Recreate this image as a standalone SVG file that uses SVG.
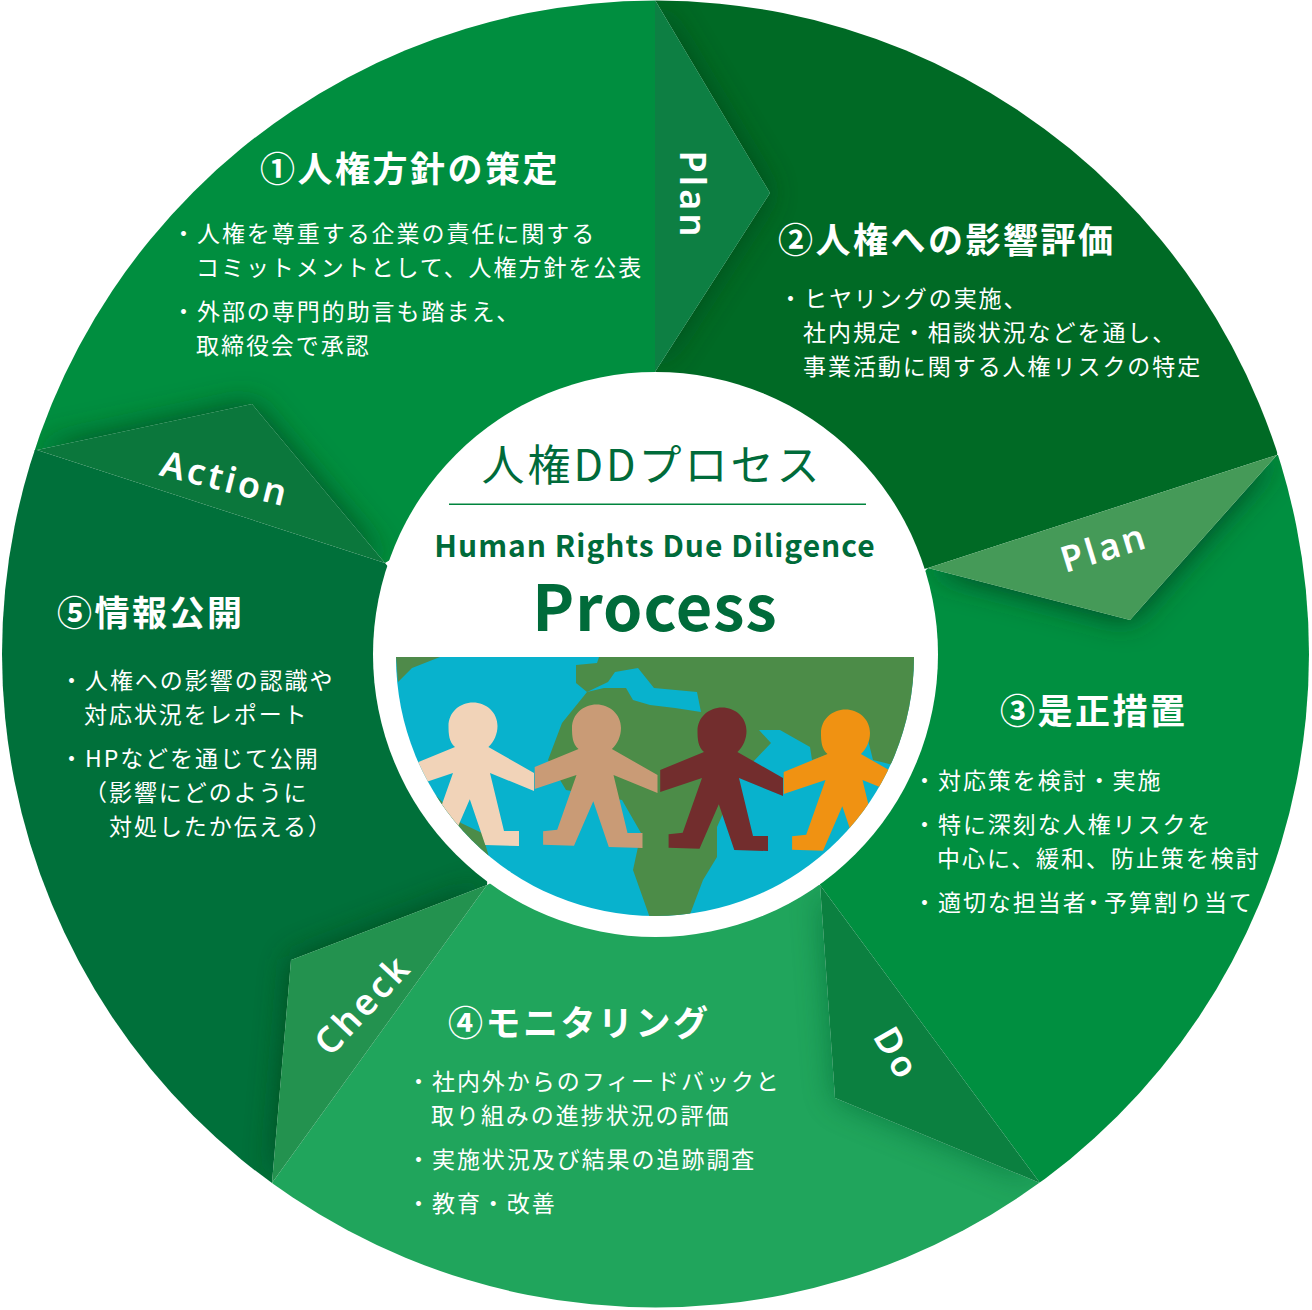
<svg xmlns="http://www.w3.org/2000/svg" width="1312" height="1310" viewBox="0 0 1312 1310">
<style>
text{font-family:"Noto Sans CJK JP","Noto Sans",sans-serif}
.h{font-size:35px;font-weight:700;fill:#fff;letter-spacing:2.5px}
.b{font-size:23px;fill:#fff;letter-spacing:1.95px}
.p{font-feature-settings:"palt"}
.t{font-family:"Noto Sans",sans-serif;font-size:36px;font-weight:600;fill:#fff;letter-spacing:3.2px;text-anchor:middle}
</style>
<defs>
<clipPath id="disc"><circle cx="655.5" cy="654" r="653.5"/></clipPath>
<clipPath id="c1"><polygon points="0,0 655,0 655,400 385,563 252,404 37,450 0,470"/></clipPath>
<clipPath id="c2"><polygon points="655,0 770,193 655,372 660,640 928,568 1277,455 1312,300 1312,0"/></clipPath>
<clipPath id="c3"><polygon points="928,568 1130,620 1277,455 1312,450 1312,1310 1040,1183 820,885 800,700"/></clipPath>
<clipPath id="c4"><polygon points="487,885 272,1183 272,1310 1040,1310 1040,1183 835,1098 820,885 655,800"/></clipPath>
<clipPath id="c5"><polygon points="37,450 385,563 500,700 487,885 291,960 272,1183 250,1310 0,1310 0,450"/></clipPath>
<clipPath id="pic"><path d="M396,657H914A259,259 0 1 1 396,657Z"/></clipPath>
<filter id="soft" x="-30%" y="-30%" width="160%" height="160%"><feGaussianBlur stdDeviation="15"/></filter>
<path id="fig" d="M-18,21C-24,16 -24.500,8 -24.500,0C-24.500,-14 -13,-23.500 0,-23.500C13,-23.500 24.500,-14 24.500,0C24.500,8 21,16 15.400,21L61,47V65L17,47L31,105H46V120L12.300,119L-3.200,73.300L-22.500,117.700L-53.400,116.700V103.300L-39.300,101.700L-20,47L-61.800,61V39Z"/>
</defs>
<g id="wheel" clip-path="url(#disc)">
<g id="segment-1">
<rect width="1312" height="1310" fill="#008e3f" clip-path="url(#c1)"/>
<g clip-path="url(#c1)"><polygon points="37,450 252,404 385,563" fill="#004d24" filter="url(#soft)"/></g>
</g>
<g id="segment-2">
<rect width="1312" height="1310" fill="#006a25" clip-path="url(#c2)"/>
<g clip-path="url(#c2)"><polygon points="655,0 770,193 655,372" fill="#00451c" filter="url(#soft)" opacity=".8"/></g>
</g>
<g id="segment-3">
<rect width="1312" height="1310" fill="#008f40" clip-path="url(#c3)"/>
<g clip-path="url(#c3)"><polygon points="928,568 1277,455 1130,620" fill="#004122" filter="url(#soft)"/></g>
</g>
<g id="segment-4">
<rect width="1312" height="1310" fill="#20a55c" clip-path="url(#c4)"/>
<g clip-path="url(#c4)"><polygon points="820,885 1040,1183 835,1098" fill="#0a6a38" filter="url(#soft)" opacity=".7"/></g>
</g>
<g id="segment-5">
<rect width="1312" height="1310" fill="#00703a" clip-path="url(#c5)"/>
<g clip-path="url(#c5)"><polygon points="487,885 291,960 272,1183" fill="#00451f" filter="url(#soft)" opacity=".8"/></g>
</g>
<g id="tabs">
<polygon points="655,0 770,193 655,372" fill="#0d7f43"/>
<polygon points="928,568 1277,455 1130,620" fill="#459a58"/>
<polygon points="820,885 1040,1183 835,1098" fill="#0b8040"/>
<polygon points="487,885 291,960 272,1183" fill="#23924f"/>
<polygon points="37,450 252,404 385,563" fill="#0b773c"/>
</g>
</g>
<g id="center">
<circle cx="655.5" cy="654.500" r="282.500" fill="#fff"/>
<text x="652" y="481" font-size="43" letter-spacing="3" text-anchor="middle" fill="#006b3a">人権DDプロセス</text>
<rect x="449" y="503.500" width="417" height="1.500" fill="#00843d"/>
<text x="655" y="557" font-size="30" font-weight="700" letter-spacing="1" text-anchor="middle" fill="#006b3a">Human Rights Due Diligence</text>
<text x="655" y="631" font-size="63" font-weight="700" letter-spacing="1" text-anchor="middle" fill="#006b3a">Process</text>
<g id="photo" clip-path="url(#pic)">
<rect x="396" y="657" width="518" height="262" fill="#08b2cd"/>
<polygon points="396,657 440,657 412,668 398,682" fill="#4f8a4a"/>
<polygon points="576,665 597,663 599,657 914,657 914,770 873,760 868,740 812,760 810,747 780,730 759,730 771,743 752,763 741,773 717,827 717,857 703,880 689,917 650,918 633,870 641,833 622,800 566,790 548,760 562,723 583,697 587,692 576,683" fill="#4c8c48"/>
<polygon points="587,692 608,682 615,672 638,668 654,688 697,692 701,712 675,708 650,705 633,700 626,688 604,688" fill="#08b2cd"/>
<polygon points="429,788 447,807 461,823 482,833 489,857 460,850 430,810" fill="#4c8c48"/>
<g id="people">
<use href="#fig" transform="translate(473,726)" fill="#f1d3b8"/>
<use href="#fig" transform="translate(596.500,728)" fill="#c99b76"/>
<use href="#fig" transform="translate(722,731)" fill="#722d2d"/>
<use href="#fig" transform="translate(845.500,733)" fill="#f09212"/>
</g>
</g>
</g>
<g id="step-1">
<text class="h" x="260" y="182">①人権方針の策定</text>
<text class="b" x="172" y="242">・人権を尊重する企業の責任に関する</text>
<text class="b" x="196" y="276">コミットメントとして、人権方針を公表</text>
<text class="b" x="172" y="320">・外部の専門的助言も踏まえ、</text>
<text class="b" x="196" y="354">取締役会で承認</text>
</g>
<g id="step-2">
<text class="h" x="778" y="253">②人権への影響評価</text>
<text class="b" x="779" y="307">・ヒヤリングの実施、</text>
<text class="b" x="803" y="341">社内規定・相談状況などを通し、</text>
<text class="b" x="803" y="375">事業活動に関する人権リスクの特定</text>
</g>
<g id="step-3">
<text class="h" x="1000" y="724">③是正措置</text>
<text class="b" x="913" y="789">・対応策を検討・実施</text>
<text class="b" x="913" y="833">・特に深刻な人権リスクを</text>
<text class="b" x="937" y="867">中心に、緩和、防止策を検討</text>
<text class="b" x="913" y="911">・適切な担当者<tspan class="p">・</tspan><tspan dx="3">予算割り当て</tspan></text>
</g>
<g id="step-4">
<text class="h" x="448" y="1036">④モニタリング</text>
<text class="b" x="407" y="1090">・社内外からのフィードバックと</text>
<text class="b" x="431" y="1124">取り組みの進捗状況の評価</text>
<text class="b" x="407" y="1168">・実施状況及び結果の追跡調査</text>
<text class="b" x="407" y="1212">・教育・改善</text>
</g>
<g id="step-5">
<text class="h" x="57" y="626">⑤情報公開</text>
<text class="b" x="60" y="689">・人権への影響の認識や</text>
<text class="b" x="84" y="723">対応状況をレポート</text>
<text class="b" x="60" y="767">・HPなどを通じて公開</text>
<text class="b" x="84" y="801">（影響にどのように</text>
<text class="b" x="109" y="835">対処したか伝える）</text>
</g>
<g id="labels">
<text class="t" transform="translate(680,195) rotate(90)">Plan</text>
<text class="t" transform="translate(1108,560) rotate(-17)">Plan</text>
<text class="t" transform="translate(222,491) rotate(14)">Action</text>
<text class="t" transform="translate(372,1013) rotate(-47)">Check</text>
<text class="t" transform="translate(886,1060) rotate(60)">Do</text>
</g>
</svg>
